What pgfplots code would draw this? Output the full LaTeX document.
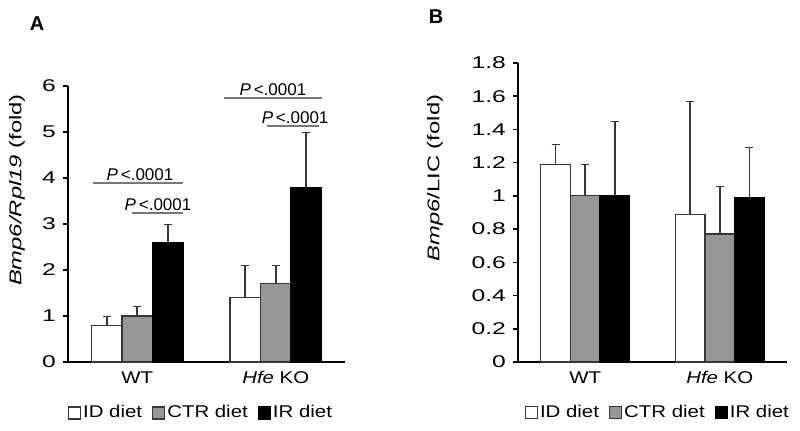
\documentclass[border=0pt]{standalone}
\usepackage{fontspec}
\setmainfont{Liberation Sans}
\newfontfamily\tickfont{Liberation Sans}[FakeStretch=1.45]
\newfontfamily\txtfont{Liberation Sans}[FakeStretch=1.2]
\newfontfamily\labfont{Liberation Sans}[FakeStretch=1.4]
\usepackage{pgfplots}
\pgfplotsset{compat=1.18}

\definecolor{barg}{RGB}{150,150,150}
\definecolor{edge}{RGB}{55,55,55}
\definecolor{sigline}{RGB}{120,120,120}

\tikzset{sig/.style={anchor=south, inner sep=1pt, font=\fontsize{8.5}{10}\selectfont}}

\pgfplotsset{
  sq legend/.style={legend image code/.code={\draw[##1] (0pt,-3pt) rectangle (6pt,3pt);}},
  panel/.style={
    scale only axis,
    clip=false,
    ybar,
    xmin=-0.5, xmax=1.5, ymin=0,
    axis x line=bottom, axis y line=left,
    axis line style={-, line width=1pt, black},
    xtick={0,1}, xticklabels={WT, \textit{Hfe} KO},
    xtick style={draw=none},
    ytick align=outside, major tick length=2.5pt,
    ytick style={line width=0.8pt, black},
    yticklabel style={font=\tickfont\fontsize{8.5}{10}\selectfont},
    xticklabel style={font=\txtfont\fontsize{8.5}{10}\selectfont},
    ylabel style={font=\labfont\fontsize{8.5}{10}\selectfont},
    /pgf/number format/assume math mode=true,
    bar width=0.22,
    legend columns=3,
    legend style={draw=none, fill=none, font=\txtfont\fontsize{8.5}{10}\selectfont,
      /tikz/every even column/.append style={column sep=4pt},
      /tikz/every node/.append style={inner xsep=1pt}},
    error bars/y dir=plus, error bars/y explicit,
    error bars/error bar style={line width=0.8pt, edge},
  },
}

\begin{document}
\begin{tikzpicture}[x=1pt,y=1pt]
\path[use as bounding box] (0,0) rectangle (400,215);

% Panel A
\begin{axis}[panel, at={(34pt,34pt)}, anchor=south west,
  width=138.5pt, height=138pt, ymax=6, ytick={0,1,2,3,4,5,6},
  ylabel={\textit{Bmp6/Rpl19} (fold)},
  ylabel style={at={(axis description cs:-0.184,0.623)}, anchor=center},
  legend style={at={(axis description cs:0.48,-0.185)}, anchor=center}]
\addplot[fill=white, draw=edge, line width=0.6pt, bar shift=-0.22, sq legend]
  coordinates {(0,0.8) +- (0,0.2) (1,1.4) +- (0,0.7)};
\addplot[fill=barg, draw=edge, line width=0.6pt, bar shift=0, sq legend]
  coordinates {(0,1.0) +- (0,0.2) (1,1.7) +- (0,0.4)};
\addplot[fill=black, draw=black, line width=0.6pt, bar shift=0.22, sq legend]
  coordinates {(0,2.6) +- (0,0.4) (1,3.8) +- (0,1.2)};
\legend{ID diet, CTR diet, IR diet}
% significance bars
\draw[sigline, line width=0.7pt] (axis cs:-0.32,3.89) -- (axis cs:0.33,3.89);
\node[sig] at (axis cs:0.02,3.89) {\textit{P}\,<.0001};
\draw[sigline, line width=0.7pt] (axis cs:-0.04,3.24) -- (axis cs:0.33,3.24);
\node[sig] at (axis cs:0.15,3.24) {\textit{P}\,<.0001};
\draw[sigline, line width=0.7pt] (axis cs:0.627,5.74) -- (axis cs:1.337,5.74);
\node[sig] at (axis cs:0.98,5.74) {\textit{P}\,<.0001};
\draw[sigline, line width=0.7pt] (axis cs:0.94,5.13) -- (axis cs:1.31,5.13);
\node[sig] at (axis cs:1.14,5.13) {\textit{P}\,<.0001};
\end{axis}

% Panel B
\begin{axis}[panel, at={(259pt,34pt)}, anchor=south west,
  width=134.5pt, height=149.5pt, ymax=1.8,
  ytick={0,0.2,0.4,0.6,0.8,1,1.2,1.4,1.6,1.8},
  ylabel={\textit{Bmp6}/LIC (fold)},
  ylabel style={at={(axis description cs:-0.309,0.615)}, anchor=center},
  legend style={at={(axis description cs:0.52,-0.17)}, anchor=center}]
\addplot[fill=white, draw=edge, line width=0.6pt, bar shift=-0.22, sq legend]
  coordinates {(0,1.19) +- (0,0.12) (1,0.89) +- (0,0.68)};
\addplot[fill=barg, draw=edge, line width=0.6pt, bar shift=0, sq legend]
  coordinates {(0,1.0) +- (0,0.19) (1,0.77) +- (0,0.29)};
\addplot[fill=black, draw=black, line width=0.6pt, bar shift=0.22, sq legend]
  coordinates {(0,1.0) +- (0,0.45) (1,0.99) +- (0,0.30)};
\legend{ID diet, CTR diet, IR diet}
\end{axis}

\node[font=\fontsize{10}{12}\selectfont\bfseries] at (18.5,203) {A};
\node[font=\fontsize{10}{12}\selectfont\bfseries] at (218,206.5) {B};
\end{tikzpicture}
\end{document}
